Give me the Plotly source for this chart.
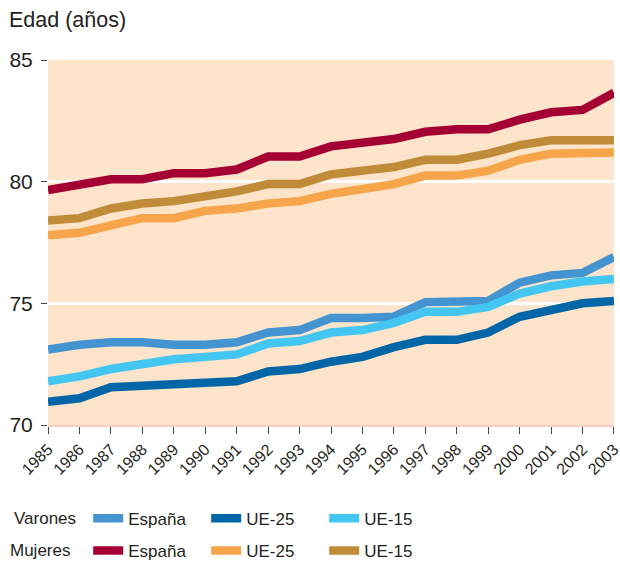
import plotly.graph_objects as go

years = list(range(1985, 2004))

varones_espana = [73.1, 73.3, 73.4, 73.4, 73.3, 73.3, 73.4, 73.8, 73.9, 74.4, 74.4, 74.45, 75.05, 75.1, 75.1, 75.85, 76.15, 76.25, 76.9]
varones_ue25 = [70.95, 71.1, 71.55, 71.6, 71.7, 71.7, 71.8, 72.2, 72.3, 72.6, 72.8, 73.2, 73.5, 73.5, 73.8, 74.45, 74.75, 75.0, 75.1]
varones_ue15 = [71.8, 72.0, 72.3, 72.5, 72.7, 72.8, 72.9, 73.35, 73.45, 73.8, 73.9, 74.2, 74.65, 74.65, 74.85, 75.4, 75.7, 75.9, 76.0]

mujeres_espana = [79.65, 79.85, 80.1, 80.1, 80.35, 80.35, 80.5, 81.03, 81.03, 81.45, 81.6, 81.75, 82.05, 82.15, 82.15, 82.55, 82.85, 82.95, 83.65]
mujeres_ue25 = [77.8, 77.9, 78.2, 78.5, 78.5, 78.8, 78.9, 79.1, 79.2, 79.5, 79.7, 79.9, 80.25, 80.25, 80.45, 80.9, 81.15, 81.2, 81.2]
mujeres_ue15 = [78.4, 78.5, 78.9, 79.1, 79.2, 79.4, 79.6, 79.9, 79.9, 80.3, 80.45, 80.6, 80.9, 80.9, 81.15, 81.5, 81.7, 81.7, 81.7]

series_names = ["España", "UE-25", "UE-15"]
varones_colors = ["#4394d0", "#0066a8", "#43c6f2"]
mujeres_colors = ["#a50033", "#f7a54b", "#c08c3a"]

y_ticks = [70, 75, 80, 85]

fig = go.Figure()

traces_v = list(zip([varones_espana, varones_ue25, varones_ue15], series_names, varones_colors))
traces_m = list(zip([mujeres_espana, mujeres_ue25, mujeres_ue15], series_names, mujeres_colors))

for vals, name, col in traces_v:
    fig.add_trace(go.Scatter(x=years, y=vals, mode="lines", name=name,
                             line=dict(color=col, width=8.5), legend="legend",
                             cliponaxis=False))
for vals, name, col in traces_m:
    fig.add_trace(go.Scatter(x=years, y=vals, mode="lines", name=name,
                             line=dict(color=col, width=8.5), legend="legend2",
                             cliponaxis=False))

font_family = "Liberation Sans, Arial, sans-serif"
txt_col = "#231f20"

legend_common = dict(
    orientation="h", x=0.071, xanchor="left", yanchor="middle",
    font=dict(family=font_family, size=17, color=txt_col),
    entrywidth=73, entrywidthmode="pixels",
    bgcolor="rgba(0,0,0,0)", itemwidth=30, traceorder="normal",
)

fig.update_layout(
    width=620, height=565,
    margin=dict(l=48, r=6, t=60, b=140, autoexpand=False),
    paper_bgcolor="white",
    plot_bgcolor="#fde4ca",
    showlegend=True,
    legend=dict(y=-0.257, **legend_common),
    legend2=dict(y=-0.345, **legend_common),
    xaxis=dict(
        range=[1984.999, 2003.001], tickmode="array", tickvals=years,
        ticktext=[str(y) for y in years], tickangle=-45,
        ticks="outside", ticklen=7, tickwidth=1.2, tickcolor="#444",
        ticklabeloverflow="allow",
        showgrid=False, zeroline=False, showline=True,
        linecolor="#f6cfc0", linewidth=1.5, automargin=False,
        tickfont=dict(family=font_family, size=16, color=txt_col),
    ),
    yaxis=dict(
        range=[70, 85], tickmode="array", tickvals=y_ticks,
        ticks="outside", ticklen=6, tickwidth=1.2, tickcolor="#444",
        ticklabelstandoff=4, ticklabeloverflow="allow",
        showgrid=True, gridcolor="white", gridwidth=2.5,
        zeroline=False, showline=False, automargin=False,
        tickfont=dict(family=font_family, size=21, color=txt_col),
    ),
    annotations=[
        dict(text="Edad (años)", xref="paper", yref="paper", x=-0.072, y=1.11,
             xanchor="left", yanchor="middle", showarrow=False,
             font=dict(family=font_family, size=21.5, color=txt_col)),
        dict(text="Varones", xref="paper", yref="paper", x=-0.064, y=-0.257,
             xanchor="left", yanchor="middle", showarrow=False,
             font=dict(family=font_family, size=17, color=txt_col)),
        dict(text="Mujeres", xref="paper", yref="paper", x=-0.071, y=-0.345,
             xanchor="left", yanchor="middle", showarrow=False,
             font=dict(family=font_family, size=17, color=txt_col)),
    ],
)

fig.write_html(
    "out.html",
    config={"displayModeBar": False},
    post_script="document.body.style.margin='0';document.body.style.overflow='hidden';",
)
